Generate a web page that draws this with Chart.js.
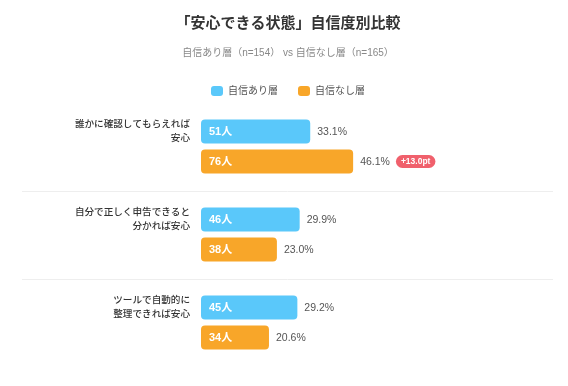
<!DOCTYPE html>
<html>
<head>
<meta charset="utf-8">
<script src="https://cdn.jsdelivr.net/npm/chart.js@4/dist/chart.umd.min.js"></script>
<style>
  html, body { margin: 0; padding: 0; background: #ffffff; }
  #wrap { width: 568px; height: 386px; }
</style>
</head>
<body>
<div id="wrap"><canvas id="c" width="568" height="386"></canvas></div>
<script>
const categories = [
  ["誰かに確認してもらえれば", "安心"],
  ["自分で正しく申告できると", "分かれば安心"],
  ["ツールで自動的に", "整理できれば安心"]
];
const seriesNames = ["自信あり層", "自信なし層"];
const confidentPct = [33.1, 29.9, 29.2];
const confidentCount = [51, 46, 45];
const unconfidentPct = [46.1, 23.0, 20.6];
const unconfidentCount = [76, 38, 34];
const diffBadges = ["+13.0pt", null, null];
const titleText = "「安心できる状態」自信度別比較";
const subtitleText = "自信あり層（n=154） vs 自信なし層（n=165）";

const FONT = "'Liberation Sans', 'Noto Sans CJK JP', sans-serif";
const BLUE = "#5ac8fa";
const ORANGE = "#f8a629";

const labelPlugin = {
  id: "customLabels",
  beforeDatasetsDraw(chart) {
    const ctx = chart.ctx;
    const y = chart.scales.y;
    ctx.save();
    ctx.strokeStyle = "#eeeeee";
    ctx.lineWidth = 1;
    for (let i = 0; i < categories.length - 1; i++) {
      const py = Math.round((y.getPixelForValue(i) + y.getPixelForValue(i + 1)) / 2) + 0.5;
      ctx.beginPath();
      ctx.moveTo(22, py);
      ctx.lineTo(553, py);
      ctx.stroke();
    }
    ctx.restore();
  },
  afterDatasetsDraw(chart) {
    const ctx = chart.ctx;
    ctx.save();
    // category labels, centred on the first bar of each group
    const m0 = chart.getDatasetMeta(0);
    ctx.font = "500 9.6px " + FONT;
    ctx.fillStyle = "#333333";
    ctx.textAlign = "right";
    ctx.textBaseline = "middle";
    categories.forEach((lines, i) => {
      const cy = m0.data[i].y;
      const lh = 14;
      const start = cy - (lines.length - 1) * lh / 2;
      lines.forEach((t, k) => ctx.fillText(t, 190, start + k * lh));
    });
    const counts = [confidentCount, unconfidentCount];
    const pcts = [confidentPct, unconfidentPct];
    [0, 1].forEach(d => {
      const meta = chart.getDatasetMeta(d);
      meta.data.forEach((bar, i) => {
        ctx.textAlign = "left";
        ctx.textBaseline = "middle";
        ctx.font = "bold 11px " + FONT;
        ctx.fillStyle = "#ffffff";
        ctx.fillText(counts[d][i] + "人", bar.base + 8, bar.y + 0.5);
        ctx.font = "10.5px " + FONT;
        ctx.fillStyle = "#555555";
        const txt = pcts[d][i].toFixed(1) + "%";
        const tx = bar.x + 7;
        ctx.fillText(txt, tx, bar.y + 0.5);
        if (d === 1 && diffBadges[i]) {
          const w = ctx.measureText(txt).width;
          const bx = tx + w + 6;
          ctx.font = "bold 8.5px " + FONT;
          const bw = ctx.measureText(diffBadges[i]).width + 10;
          const bh = 13;
          const by = bar.y - bh / 2;
          ctx.fillStyle = "#f0606c";
          ctx.beginPath();
          ctx.roundRect(bx, by, bw, bh, bh / 2);
          ctx.fill();
          ctx.fillStyle = "#ffffff";
          ctx.textAlign = "center";
          ctx.fillText(diffBadges[i], bx + bw / 2, bar.y + 0.5);
        }
      });
    });
    ctx.restore();
  }
};

new Chart(document.getElementById("c"), {
  type: "bar",
  data: {
    labels: categories,
    datasets: [
      {
        label: seriesNames[0],
        data: confidentPct,
        backgroundColor: BLUE,
        borderRadius: 4,
        borderSkipped: false,
        categoryPercentage: 60 / 88,
        barPercentage: 0.8
      },
      {
        label: seriesNames[1],
        data: unconfidentPct,
        backgroundColor: ORANGE,
        borderRadius: 4,
        borderSkipped: false,
        categoryPercentage: 60 / 88,
        barPercentage: 0.8
      }
    ]
  },
  options: {
    indexAxis: "y",
    responsive: false,
    animation: false,
    layout: { padding: { top: 0, left: 12, right: 4, bottom: 19.5 } },
    scales: {
      x: { display: false, min: 0, max: 110 },
      y: {
        display: true,
        offset: true,
        grid: { display: false },
        border: { display: false },
        ticks: { display: false },
        afterFit: (s) => { s.width = 189; }
      }
    },
    plugins: {
      tooltip: { enabled: false },
      title: {
        display: true,
        text: titleText,
        color: "#333333",
        font: { family: FONT, size: 15, weight: "bold" },
        padding: { top: 15, bottom: 0 }
      },
      subtitle: {
        display: true,
        text: subtitleText,
        color: "#888888",
        font: { family: FONT, size: 10 },
        padding: { top: 14, bottom: 7 }
      },
      legend: {
        display: true,
        maxHeight: 36.5,
        labels: {
          color: "#555555",
          font: { family: FONT, size: 10 },
          boxWidth: 12,
          boxHeight: 10,
          padding: 20,
          useBorderRadius: true,
          borderRadius: 3
        }
      }
    }
  },
  plugins: [labelPlugin]
});
</script>
</body>
</html>
